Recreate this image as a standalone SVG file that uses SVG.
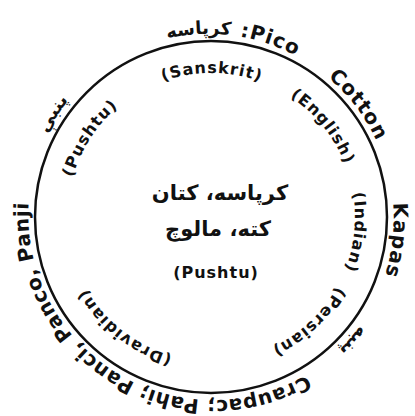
<svg xmlns="http://www.w3.org/2000/svg" width="415" height="416" viewBox="0 0 415 416">
<style>
.lat{font-family:"DejaVu Sans","Liberation Sans",sans-serif;font-weight:bold;fill:#111}
.out{font-size:20px;letter-spacing:1px}
.inn{font-size:16px;letter-spacing:1px}
.ur{font-family:"DejaVu Sans",sans-serif;font-weight:bold;fill:#111}
</style>
<defs>
<path id="outer" d="M 329.9,358.7 A 185 185 0 0 1 92.1,75.3 A 185 185 0 0 1 329.9,358.7"/>
<path id="inner" d="M 211,361 A 144 144 0 0 1 211,73 A 144 144 0 0 1 211,361"/>
</defs>
<rect width="415" height="416" fill="#fff"/>
<g id="ring"><circle cx="211" cy="217" r="176" fill="none" stroke="#111" stroke-width="2.5"/></g>
<g id="outer-labels">
<text class="ur" font-size="18"><textPath href="#outer" startOffset="60.1%" text-anchor="middle">کرپاسه</textPath></text>
<text class="lat out"><textPath href="#outer" startOffset="66.3%" text-anchor="middle">:Pico</textPath></text>
<text class="lat out"><textPath href="#outer" startOffset="75.75%" text-anchor="middle">Cotton</textPath></text>
<text class="lat out"><textPath href="#outer" startOffset="88.06%" text-anchor="middle">Kapas</textPath></text>
<text class="ur" font-size="18"><textPath href="#outer" startOffset="97.5%" text-anchor="middle">پنبه</textPath></text>
<text class="lat out" style="letter-spacing:0.5px"><textPath href="#outer" startOffset="19.9%" text-anchor="middle">Craupac; Pahi; Panci, Panco, Panji</textPath></text>
<text class="ur" font-size="18"><textPath href="#outer" startOffset="45.28%" text-anchor="middle">پنبې</textPath></text>
</g>
<g id="inner-labels">
<text class="lat inn"><textPath href="#inner" startOffset="50.1%" text-anchor="middle">(Sanskrit)</textPath></text>
<text class="lat inn"><textPath href="#inner" startOffset="64.17%" text-anchor="middle">(English)</textPath></text>
<text class="lat inn"><textPath href="#inner" startOffset="76.67%" text-anchor="middle">(Indian)</textPath></text>
<text class="lat inn"><textPath href="#inner" startOffset="88.06%" text-anchor="middle">(Persian)</textPath></text>
<text class="lat inn"><textPath href="#inner" startOffset="10.56%" text-anchor="middle">(Dravidian)</textPath></text>
<text class="lat inn"><textPath href="#inner" startOffset="34.17%" text-anchor="middle">(Pushtu)</textPath></text>
</g>
<g id="center">
<text class="ur" font-size="21" x="220" y="200" text-anchor="middle">کرپاسه، کتان</text>
<text class="ur" font-size="21" x="218" y="236" text-anchor="middle">کته، مالوچ</text>
<text class="lat inn" x="216" y="278" text-anchor="middle">(Pushtu)</text>
</g>
</svg>
